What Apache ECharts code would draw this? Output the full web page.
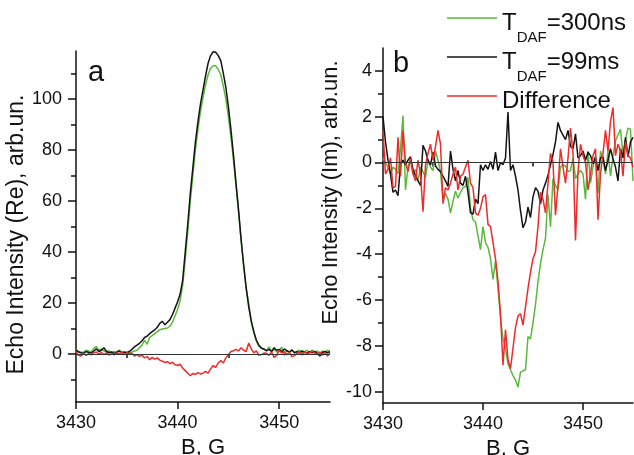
<!DOCTYPE html>
<html><head><meta charset="utf-8">
<script src="https://cdn.jsdelivr.net/npm/echarts@6/dist/echarts.min.js"></script>
<style>html,body{margin:0;padding:0;background:#fff}#c{width:634px;height:455px}</style>
</head><body><div id="c"></div>
<script>
// Magnetic field grid, G (both panels share it)
const field = [3430,3430.25,3430.5,3430.75,3431,3431.25,3431.5,3431.75,3432,3432.25,3432.5,3432.75,3433,3433.25,3433.5,3433.75,3434,3434.25,3434.5,3434.75,3435,3435.25,3435.5,3435.75,3436,3436.25,3436.5,3436.75,3437,3437.25,3437.5,3437.75,3438,3438.25,3438.5,3438.75,3439,3439.25,3439.5,3439.75,3440,3440.25,3440.5,3440.75,3441,3441.25,3441.5,3441.75,3442,3442.25,3442.5,3442.75,3443,3443.25,3443.5,3443.75,3444,3444.25,3444.5,3444.75,3445,3445.25,3445.5,3445.75,3446,3446.25,3446.5,3446.75,3447,3447.25,3447.5,3447.75,3448,3448.25,3448.5,3448.75,3449,3449.25,3449.5,3449.75,3450,3450.25,3450.5,3450.75,3451,3451.25,3451.5,3451.75,3452,3452.25,3452.5,3452.75,3453,3453.25,3453.5,3453.75,3454,3454.25,3454.5,3454.75,3455];

// Panel a: Echo intensity (Re)
const reGreen = [1.8,1.0,0.6,0.8,1.5,1.2,0.8,2.2,3.0,1.5,2.0,1.2,0.8,1.3,0.5,1.0,0.8,1.5,0.9,0.5,0.7,0.5,0.8,1.2,1.5,2.5,3.5,5.5,3.8,6.5,7.2,8.0,8.8,9.5,9.8,10.0,10.2,11.0,12.5,15,17.5,21,27,37,48,60,70,80,88,95,100.5,105.5,109.5,112,113,113,111.5,109.5,105,100,93,85,76,66,55.5,44.5,34.5,25.5,20,12.5,8.5,5.0,3.0,2.5,1.8,1.5,2.8,1.0,1.8,0.8,1.2,2.8,-0.5,1.5,0.5,1.8,0.3,1.0,1.5,0.3,0.9,1.5,0.4,1.6,0.8,1.2,0.2,1.2,0.5,1.5,1.0];
const reBlack = [1.5,0.8,0.5,0.3,1.0,0.6,0.4,1.2,2.0,1.0,1.5,2.5,1.0,0.5,0.8,0.2,0.6,1.2,0.4,0.8,0.5,1.0,1.8,2.8,3.5,4.2,5.2,6.5,7.0,8.0,8.8,9.5,10.5,12.0,12.8,11.5,12.5,13.5,15.5,18.0,20.5,23.5,29,40,51,63,73,83,91,98,103.5,109,114,117,118.5,118.3,117,115,110,104.5,97,88,78,67,56.5,45,35,26,18.5,13,8.8,5.5,3.5,2.3,2.0,1.2,1.8,1.0,2.5,1.5,1.8,1.0,2.0,1.3,0.8,1.5,0.6,0.9,0.5,1.2,0.7,0.4,0.9,0.5,1.0,0.3,-0.8,0.6,1.0,0.5,0.9];
const reDiff = [1.0,-0.5,-0.8,0.3,-0.5,0.2,-0.3,0.5,0.8,0.0,0.6,-0.2,0.5,-0.4,0.2,-0.3,0.4,0.1,0.8,-0.2,0.5,0.0,0.3,-0.8,-0.3,-0.9,-0.5,-1.5,-1.0,-2.2,-1.3,-2.0,-1.5,-2.4,-2.8,-3.3,-3.0,-3.8,-3.2,-4.2,-4.5,-4.0,-5.5,-6.5,-7.5,-8.5,-7.6,-8.0,-7.3,-7.8,-7.5,-6.8,-7.5,-5.8,-4.5,-5.2,-3.5,-2.6,-3.5,-1.5,-0.2,1.0,1.3,1.8,1.2,2.5,1.5,1.0,4.3,2.0,0.5,1.2,-0.5,-0.2,0.4,0.3,-0.5,0.8,-1.3,-0.5,1.5,0.4,1.0,-0.3,0.8,-1.0,-0.6,0.2,0.9,-0.4,0.8,0.2,0.5,1.2,0.3,-0.2,0.8,-0.5,0.6,-0.8,0.3];

// Panel b: Echo intensity (Im)
const imGreen = [0.2,0.0,-0.2,-0.5,-0.2,-0.3,-0.5,0.6,2.05,-1.2,-0.2,0.1,-0.5,-0.3,-0.8,-0.2,-0.4,-0.65,0.1,-0.2,-0.35,0.5,0.1,-0.4,-1.65,-1.35,-1.6,-2.2,-1.7,-1.25,-1.55,-1.3,-1.1,-1.05,-0.65,-2.0,-2.5,-2.6,-3.2,-3.8,-2.8,-3.5,-3.7,-4.2,-5.1,-4.3,-5.5,-6.8,-7.7,-8.1,-8.8,-9.05,-9.3,-9.5,-9.8,-9.15,-9.1,-9.05,-7.6,-7.7,-7.0,-6.2,-5.2,-4.4,-3.8,-3.3,-1.4,-2.8,-0.7,-1.0,-1.2,-0.2,-0.1,-0.15,-0.4,-0.35,0.2,-0.7,-0.5,-0.35,-0.5,-1.6,0.5,-0.9,-0.2,0.2,-1.35,0.5,0.1,-0.5,0.5,-0.6,0.3,0.95,1.2,1.45,0.3,1.0,1.5,1.45,-0.8];
const imBlack = [2.0,0.9,0.1,-0.5,-1.3,-1.2,-1.45,-0.1,0.1,-0.1,0.1,0.25,-0.3,-0.6,-0.8,-1.0,0.75,0.5,0.1,-0.1,0.45,-0.15,-0.3,-0.4,-0.6,-0.8,-1.05,0.5,-0.3,-0.8,-0.35,-0.9,-1.0,-0.6,-1.3,-2.2,-2.25,-1.6,-1.8,-0.1,-0.35,-0.1,-0.3,0.05,-0.3,0.45,-0.35,0.0,-0.1,0.2,2.2,-0.35,-0.1,-0.6,-1.2,-2.1,-2.85,-2.6,-1.95,-2.4,-1.5,-1.1,-1.25,-1.8,-1.2,-0.9,-0.55,-0.1,0.35,0.9,1.75,1.4,1.2,1.0,1.4,0.7,0.6,1.25,0.2,0.3,0.5,0.1,0.45,0.3,-0.05,0.25,-0.35,0.2,0.25,-0.35,0.1,0.6,0.15,-0.2,-0.8,0.6,0.2,1.1,0.25,0.9,1.1];
const imDiff = [1.4,-0.5,-0.3,0.2,-1.1,-1.05,1.1,-0.6,1.4,0.0,-0.4,0.2,-0.5,-0.8,0.1,-0.5,-2.15,-0.1,0.4,0.8,0.1,0.7,1.4,0.8,-1.8,-1.1,-1.2,-0.9,-0.5,-0.2,-1.2,-0.6,-0.5,-0.2,0.1,-0.9,-1.1,-2.2,-2.3,-2.0,-1.5,-1.4,-2.7,-2.8,-3.5,-4.2,-5.2,-6.6,-8.85,-7.3,-8.6,-9.0,-8.1,-7.2,-6.7,-6.6,-7.1,-6.3,-5.5,-4.8,-4.2,-3.9,-2.8,-1.3,-1.6,-2.2,-0.9,0.4,0.0,-2.3,-1.0,0.6,-0.2,-0.9,0.2,1.5,0.4,-3.4,-0.4,0.8,0.3,0.0,-1.2,-0.5,0.3,0.6,-2.5,-0.5,0.4,1.4,0.5,1.8,2.4,0.3,0.8,0.5,-0.6,0.9,0.3,0.2,-0.2];

// Tick labels
const xTicks = [3430, 3440, 3450];
const xMinor = [3435, 3445];
const yTicksA = [0, 20, 40, 60, 80, 100];
const yMinorA = [-10, 10, 30, 50, 70, 90, 110];
const yTicksB = [-10, -8, -6, -4, -2, 0, 2, 4];
const yMinorB = [-9, -7, -5, -3, -1, 1, 3];

const names = ['T_DAF=300ns', 'T_DAF=99ms', 'Difference'];
const colors = ['#5ab93c', '#141414', '#f02a2a'];

const FONT = '"Liberation Sans", Arial, sans-serif';
const pairs = ys => field.map((b, i) => [b, ys[i]]);
const plain = v => String(v);

const axisLineStyle = { color: '#111', width: 1.5 };
function xAxes(grid) {
  return [{
    type: 'value', gridIndex: grid, min: 3430, max: 3455, position: 'bottom',
    axisLine: { show: true, onZero: false, lineStyle: axisLineStyle },
    axisTick: { show: true, customValues: xTicks, length: 7, lineStyle: { color: '#111', width: 1.5 } },
    axisLabel: { customValues: xTicks, formatter: plain, fontSize: 18, color: '#111', fontFamily: FONT, margin: 12 },
    splitLine: { show: false },
    name: 'B, G', nameLocation: 'middle', nameGap: 35,
    nameTextStyle: { fontSize: 22, color: '#111', fontFamily: FONT }
  }, {
    type: 'value', gridIndex: grid, min: 3430, max: 3455, position: 'bottom',
    axisLine: { show: false }, axisLabel: { show: false }, splitLine: { show: false },
    axisTick: { show: true, customValues: xMinor, length: 4, lineStyle: { color: '#111', width: 1.5 } }
  }];
}
function yAxes(grid, min, max, ticks, minor, title, gap, fs, margin, pad) {
  return [{
    type: 'value', gridIndex: grid, min: min, max: max, position: 'left',
    axisLine: { show: true, onZero: false, lineStyle: axisLineStyle },
    axisTick: { show: true, customValues: ticks, length: 8, lineStyle: { color: '#111', width: 1.5 } },
    axisLabel: { customValues: ticks, formatter: plain, fontSize: 18, color: '#111', fontFamily: FONT, margin: margin },
    splitLine: { show: false },
    name: title, nameLocation: 'middle', nameGap: gap, nameRotate: 90,
    nameTextStyle: { fontSize: fs, color: '#111', fontFamily: FONT, padding: pad }
  }, {
    type: 'value', gridIndex: grid, min: min, max: max, position: 'left',
    axisLine: { show: false }, axisLabel: { show: false }, splitLine: { show: false },
    axisTick: { show: true, customValues: minor, length: 5, lineStyle: { color: '#111', width: 1.5 } }
  }];
}

function ser(name, color, data, xi, yi, zero) {
  const s = {
    type: 'line', name: name, xAxisIndex: xi, yAxisIndex: yi, data: pairs(data),
    showSymbol: false, symbol: 'none', lineStyle: { color: color, width: 1.5 }, itemStyle: { color: color },
    animation: false, z: 3
  };
  if (zero) {
    s.markLine = { silent: true, symbol: 'none', label: { show: false },
      lineStyle: { color: '#333', width: 1, type: 'solid' }, data: [{ yAxis: 0 }] };
  }
  return s;
}

const chart = echarts.init(document.getElementById('c'));
chart.setOption({
  animation: false,
  backgroundColor: '#fff',
  grid: [
    { left: 76, right: 304, top: 51, bottom: 53, outerBoundsMode: 'none', containLabel: false },
    { left: 383, right: 1, top: 48, bottom: 52, outerBoundsMode: 'none', containLabel: false }
  ],
  xAxis: [...xAxes(0), ...xAxes(1)],
  yAxis: [
    ...yAxes(0, -18.8, 118.8, yTicksA, yMinorA, 'Echo Intensity (Re), arb.un.', 22, 23, 14, [0, 16, 0, 0]),
    ...yAxes(1, -10.5, 5, yTicksB, yMinorB, 'Echo Intensity (Im), arb.un.', 27, 22, 11, [0, 0, 0, 66])
  ],
  legend: {
    orient: 'vertical', left: 447, top: 5, padding: 0, itemGap: -1,
    itemWidth: 50, itemHeight: 1.5, icon: 'rect',
    data: names,
    formatter: n => n.startsWith('T_DAF') ? '{m|T}{s|DAF}{m|' + n.slice(5) + '}' : '{m|' + n + '}{s| }',
    textStyle: {
      fontFamily: FONT, color: '#111',
      rich: {
        m: { fontSize: 24, lineHeight: 26, padding: [6, 0, 6, 0], verticalAlign: 'top', fontFamily: FONT, color: '#111' },
        s: { fontSize: 15, lineHeight: 13, padding: [25, 0, 0, 0], verticalAlign: 'top', fontFamily: FONT, color: '#111' }
      }
    }
  },
  graphic: [
    { type: 'text', x: 88, y: 73, style: { text: 'a', font: '29px ' + FONT, fill: '#111', textVerticalAlign: 'middle' } },
    { type: 'text', x: 393, y: 64, style: { text: 'b', font: '29px ' + FONT, fill: '#111', textVerticalAlign: 'middle' } }
  ],
  series: [
    ser(names[0], colors[0], reGreen, 0, 0, true),
    ser(names[1], colors[1], reBlack, 0, 0, false),
    ser(names[2], colors[2], reDiff, 0, 0, false),
    ser(names[0], colors[0], imGreen, 2, 2, true),
    ser(names[1], colors[1], imBlack, 2, 2, false),
    ser(names[2], colors[2], imDiff, 2, 2, false)
  ]
});
</script></body></html>
